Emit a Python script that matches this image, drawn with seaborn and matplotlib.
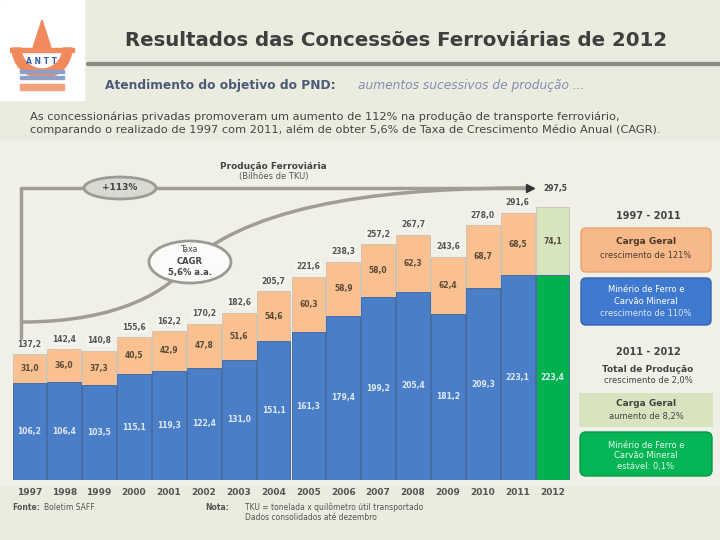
import numpy as np
import pandas as pd
import matplotlib
matplotlib.use("Agg")
import matplotlib.pyplot as plt
import seaborn as sns
from matplotlib.patches import Ellipse, FancyBboxPatch, Rectangle, Wedge, Polygon
from matplotlib.path import Path
from matplotlib.patches import PathPatch

sns.set_style("white")
plt.rcParams["font.family"] = ["DejaVu Sans"]

# dados (bilhoes de TKU)
anos = ["1997", "1998", "1999", "2000", "2001", "2002", "2003", "2004",
        "2005", "2006", "2007", "2008", "2009", "2010", "2011", "2012"]
minerio = [106.2, 106.4, 103.5, 115.1, 119.3, 122.4, 131.0, 151.1,
           161.3, 179.4, 199.2, 205.4, 181.2, 209.3, 223.1, 223.4]
carga_geral = [31.0, 36.0, 37.3, 40.5, 42.9, 47.8, 51.6, 54.6,
               60.3, 58.9, 58.0, 62.3, 62.4, 68.7, 68.5, 74.1]
total = [round(a + b, 1) for a, b in zip(minerio, carga_geral)]

cor_min = ["#4a7fc8"] * 15 + ["#00b14f"]
cor_cg = ["#fac08f"] * 15 + ["#d6e5bd"]

df = pd.DataFrame({"ano": anos, "minerio": minerio, "carga_geral": carga_geral, "total": total})

def fmt(v):
    return f"{v:.1f}".replace(".", ",")

fig = plt.figure(figsize=(7.2, 5.4), dpi=100)
fig.patch.set_facecolor("#ecebdf")

# painel claro atras do grafico
bg = fig.add_axes([0, 0, 1, 1])
bg.set_xlim(0, 720)
bg.set_ylim(540, 0)
bg.axis("off")
bg.add_patch(Rectangle((0, 140), 720, 345, color="#f0f0e8", zorder=0))

# grafico de barras
ax = fig.add_axes([12 / 720, 60 / 540, 558 / 720, 330 / 540])
ax.patch.set_alpha(0)
sns.barplot(data=df, x="ano", y="total", hue="ano", palette=cor_cg, legend=False,
            width=0.97, saturation=1, edgecolor="#c9c2b4", linewidth=0.6, ax=ax)
sns.barplot(data=df, x="ano", y="minerio", hue="ano", palette=cor_min, legend=False,
            width=0.97, saturation=1, edgecolor="#3b64a0", linewidth=0.6, ax=ax)
ax.set_xlim(-0.5, 15.5)
ax.set_ylim(0, 360)
ax.set_xlabel("")
ax.set_ylabel("")
ax.set_yticks([])
ax.tick_params(axis="x", length=0, pad=6)
for lab in ax.get_xticklabels():
    lab.set_fontsize(6.5)
    lab.set_fontweight("bold")
    lab.set_color("#555555")
sns.despine(ax=ax, left=True, bottom=True)

for i in range(len(anos)):
    ax.text(i, minerio[i] / 2, fmt(minerio[i]), ha="center", va="center",
            fontsize=5.5, color="#dfe8f5", fontweight="bold")
    ax.text(i, minerio[i] + carga_geral[i] / 2, fmt(carga_geral[i]), ha="center",
            va="center", fontsize=5.5, color="#5a4a3a", fontweight="bold")
    if i < 15:
        ax.text(i, total[i] + 6, fmt(total[i]), ha="center", va="bottom",
                fontsize=5.5, color="#555555", fontweight="bold",
                bbox=dict(boxstyle="square,pad=0.15", fc="#f4f4ef", ec="none"))

# colchete 1997 -> 2012
ax.plot([-0.25, -0.25, 14.35], [total[0] + 18, 318, 318], color="#a09d96", lw=2.5,
        solid_capstyle="round", zorder=5)
ax.plot([14.35], [318], marker=">", color="#333333", markersize=6, zorder=6)
ax.text(14.75, 318, fmt(total[15]), ha="left", va="center", fontsize=5.5,
        color="#444444", fontweight="bold")

ax.text(7.0, 342, "Produção Ferroviária", ha="center", va="center", fontsize=6.5,
        fontweight="bold", color="#444444")
ax.text(7.0, 331, "(Bilhões de TKU)", ha="center", va="center", fontsize=6,
        color="#555555")

# curva de crescimento
verts = [(22, 322), (120, 322), (170, 290), (190, 262),
         (260, 200), (400, 188), (528, 188)]
codes = [Path.MOVETO, Path.CURVE4, Path.CURVE4, Path.CURVE4,
         Path.CURVE4, Path.CURVE4, Path.CURVE4]
bg.add_patch(PathPatch(Path(verts, codes), fc="none", ec="#a09d96", lw=2.5, zorder=4))

over = fig.add_axes([0, 0, 1, 1])
over.set_xlim(0, 720)
over.set_ylim(540, 0)
over.axis("off")
over.add_patch(Ellipse((120, 188), 72, 22, fc="#d9d8d2", ec="#9c9a94", lw=2))
over.text(120, 188, "+113%", ha="center", va="center", fontsize=6.5,
          fontweight="bold", color="#444444")
over.add_patch(Ellipse((190, 262), 82, 42, fc="#fbfbf9", ec="#9c9a94", lw=2))
over.text(190, 250, "Taxa", ha="center", va="center", fontsize=5.5, color="#444444")
over.text(190, 262, "CAGR", ha="center", va="center", fontsize=6, fontweight="bold",
          color="#444444")
over.text(190, 273, "5,6% a.a.", ha="center", va="center", fontsize=6,
          fontweight="bold", color="#444444")

# logo
over.add_patch(Rectangle((0, 0), 84, 100, color="white", zorder=1))
over.add_patch(Wedge((42, 48), 30, 0, 180, width=9, color="#f08a5d", zorder=2))
over.add_patch(Polygon([(33, 48), (42, 20), (51, 48)], color="#f08a5d", zorder=2))
over.add_patch(Rectangle((10, 48), 64, 4, color="#f08a5d", zorder=2))
over.text(42, 62, "A N T T", ha="center", va="center", fontsize=5.5,
          fontweight="bold", color="#3d5fa8", zorder=3)
over.add_patch(Rectangle((20, 70), 44, 3, color="#8aa0c8", zorder=2))
over.add_patch(Rectangle((20, 76), 44, 3, color="#8aa0c8", zorder=2))
over.add_patch(Rectangle((20, 84), 44, 6, color="#f4a27e", zorder=2))

# titulo
over.text(396, 40, "Resultados das Concessões Ferroviárias de 2012", ha="center",
          va="center", fontsize=14.2, fontweight="bold", color="#3f3f3f")
over.plot([88, 720], [64, 64], color="#8a8984", lw=3)
over.text(105, 86, "Atendimento do objetivo do PND:", ha="left", va="center",
          fontsize=8.8, fontweight="bold", color="#4a5a78")
over.text(358, 86, "aumentos sucessivos de produção ...", ha="left", va="center",
          fontsize=8.8, color="#7f8fb0", style="italic")
over.text(30, 117, "As concessionárias privadas promoveram um aumento de 112% na produção de transporte ferroviário,",
          ha="left", va="center", fontsize=8.2, color="#444444")
over.text(30, 130, "comparando o realizado de 1997 com 2011, além de obter 5,6% de Taxa de Crescimento Médio Anual (CAGR).",
          ha="left", va="center", fontsize=8.2, color="#444444")

# rodape
over.text(12, 507, "Fonte:", ha="left", va="center", fontsize=5.5, fontweight="bold", color="#555555")
over.text(44, 507, "Boletim SAFF", ha="left", va="center", fontsize=5.5, color="#555555")
over.text(205, 507, "Nota:", ha="left", va="center", fontsize=5.5, fontweight="bold", color="#555555")
over.text(245, 507, "TKU = tonelada x quilômetro útil transportado", ha="left", va="center",
          fontsize=5.5, color="#555555")
over.text(245, 517, "Dados consolidados até dezembro", ha="left", va="center",
          fontsize=5.5, color="#555555")

# painel lateral
over.text(648, 216, "1997 - 2011", ha="center", va="center", fontsize=7,
          fontweight="bold", color="#444444")
over.add_patch(FancyBboxPatch((581, 228), 130, 44, boxstyle="round,pad=0,rounding_size=5",
                              fc="#f8b98a", ec="#e9a26d", lw=1))
over.text(646, 242, "Carga Geral", ha="center", va="center", fontsize=6.5,
          fontweight="bold", color="#4a3a2a")
over.text(646, 256, "crescimento de 121%", ha="center", va="center", fontsize=6,
          color="#4a3a2a")
over.add_patch(FancyBboxPatch((581, 278), 130, 47, boxstyle="round,pad=0,rounding_size=5",
                              fc="#3f7ad0", ec="#3564b0", lw=1))
over.text(646, 290, "Minério de Ferro e", ha="center", va="center", fontsize=6,
          color="white")
over.text(646, 301, "Carvão Mineral", ha="center", va="center", fontsize=6,
          color="white")
over.text(646, 313, "crescimento de 110%", ha="center", va="center", fontsize=6,
          color="#dde6f5")

over.text(648, 352, "2011 - 2012", ha="center", va="center", fontsize=7,
          fontweight="bold", color="#444444")
over.text(648, 369, "Total de Produção", ha="center", va="center", fontsize=6.5,
          fontweight="bold", color="#444444")
over.text(648, 381, "crescimento de 2,0%", ha="center", va="center", fontsize=6,
          color="#444444")
over.add_patch(Rectangle((579, 393), 134, 34, fc="#d8e4bf", ec="none"))
over.text(646, 403, "Carga Geral", ha="center", va="center", fontsize=6.5,
          fontweight="bold", color="#444444")
over.text(646, 416, "aumento de 8,2%", ha="center", va="center", fontsize=6,
          color="#444444")
over.add_patch(FancyBboxPatch((580, 432), 132, 44, boxstyle="round,pad=0,rounding_size=6",
                              fc="#06b656", ec="#039a48", lw=1))
over.text(646, 445, "Minério de Ferro e", ha="center", va="center", fontsize=6,
          color="#e8f7ec")
over.text(646, 456, "Carvão Mineral", ha="center", va="center", fontsize=6,
          color="#e8f7ec")
over.text(646, 467, "estável: 0,1%", ha="center", va="center", fontsize=6,
          color="#e8f7ec")

fig.savefig("out.png", dpi=100, facecolor=fig.get_facecolor())
